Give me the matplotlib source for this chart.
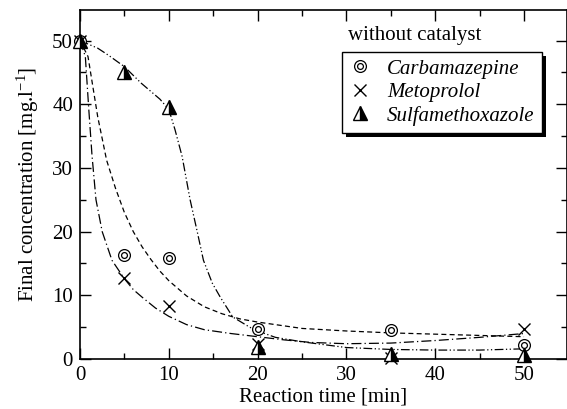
import matplotlib
matplotlib.use("Agg")
import matplotlib.pyplot as plt
from matplotlib.lines import Line2D
from matplotlib.patches import Rectangle
from matplotlib.ticker import MultipleLocator
from matplotlib.font_manager import FontProperties

plt.rcParams['font.family'] = ['Liberation Serif', 'DejaVu Serif']
plt.rcParams['mathtext.fontset'] = 'custom'
plt.rcParams['mathtext.rm'] = 'Liberation Serif'
plt.rcParams['mathtext.it'] = 'Liberation Serif:italic'

# measured points
time_pts = [0, 5, 10, 20, 35, 50]
carbamazepine = [50, 16.3, 15.8, 4.7, 4.5, 2.2]
metoprolol = [50, 12.7, 8.3, 2.4, 0.2, 4.7]
sulfamethoxazole = [50, 45.0, 39.6, 1.9, 0.8, 0.6]

# fitted curves
carb_fit_t = [0, 0.9, 2, 3, 4, 5, 6, 7, 8, 9, 10, 12, 14, 16, 18, 20, 25, 30, 35, 40, 45, 50]
carb_fit_c = [50, 47.5, 38.0, 31.2, 26.8, 23.0, 20.0, 17.6, 15.6, 13.8, 12.3, 9.9, 8.2, 7.1, 6.3, 5.8, 4.8, 4.4, 4.1, 3.9, 3.7, 3.5]

meto_fit_t = [0, 0.6, 1.0, 1.35, 1.8, 2.5, 3.6, 5.0, 6.0, 7.0, 8.5, 10, 12, 14, 17, 20, 23, 26, 30, 35, 40, 45, 50]
meto_fit_c = [50, 47.5, 39.0, 32.0, 25.0, 20.0, 15.5, 12.6, 10.9, 9.7, 8.0, 6.7, 5.4, 4.6, 4.0, 3.5, 3.0, 2.6, 2.4, 2.5, 2.9, 3.4, 4.0]

sulfa_fit_t = [0, 2, 3.2, 5, 6.9, 9, 10, 10.7, 11.5, 12.4, 13.2, 13.9, 14.9, 15.8, 17.2, 19.1, 20, 22, 25, 30, 35, 40, 45, 50]
sulfa_fit_c = [50, 48.8, 47.7, 45.9, 43.3, 40.8, 39.2, 36.0, 31.8, 25.0, 20.0, 15.5, 11.9, 9.7, 6.6, 5.0, 4.4, 3.4, 2.7, 1.8, 1.5, 1.4, 1.4, 1.6]

x_ticks = [0, 10, 20, 30, 40, 50]
y_ticks = [0, 10, 20, 30, 40, 50]
series_labels = ['Carbamazepine', 'Metoprolol', 'Sulfamethoxazole']
title_text = 'without catalyst'

fig = plt.figure(figsize=(5.67, 4.09), dpi=100)
ax = fig.add_axes([80/567, 50/409, 487/567, 349/409])

lw = 0.9
ax.plot(carb_fit_t, carb_fit_c, color='black', lw=lw, ls=(0, (4, 2.6)))
ax.plot(meto_fit_t, meto_fit_c, color='black', lw=lw, ls=(0, (8, 2.5, 1, 2.5)))
ax.plot(sulfa_fit_t, sulfa_fit_c, color='black', lw=lw, ls=(0, (7, 2, 1, 2, 1, 2)))

ax.plot(time_pts, carbamazepine, ls='none', marker='o', ms=8.5, mfc='white', mec='black', mew=0.9, clip_on=False, zorder=3)
ax.plot(time_pts, carbamazepine, ls='none', marker='o', ms=4.2, mfc='white', mec='black', mew=0.9, clip_on=False, zorder=4)
ax.plot(time_pts, metoprolol, ls='none', marker='x', ms=9, mec='black', mew=1.0, clip_on=False, zorder=4)
ax.plot(time_pts, sulfamethoxazole, ls='none', marker='^', ms=10, mfc='black', mfcalt='white',
        fillstyle='right', mec='black', mew=1.0, clip_on=False, zorder=5)

ax.set_xlim(0, 54.84)
ax.set_ylim(0, 54.8)
ax.set_xticks(x_ticks)
ax.set_yticks(y_ticks)
ax.xaxis.set_minor_locator(MultipleLocator(5))
ax.yaxis.set_minor_locator(MultipleLocator(5))
ax.tick_params(which='both', direction='in', top=True, right=True, width=1.0, labelsize=15, colors='black')
ax.tick_params(which='major', length=8, pad=5)
ax.tick_params(which='minor', length=4.5)
for s in ax.spines.values():
    s.set_linewidth(1.2)

ax.set_xlabel('Reaction time [min]', fontsize=15, labelpad=2)
ax.set_ylabel(r'Final concentration [mg.l$^{-1}$]', fontsize=15, labelpad=8)

ax.text(0.55, 0.928, title_text, transform=ax.transAxes, fontsize=15, ha='left', va='center')

h_carb = (Line2D([], [], ls='none', marker='o', ms=8.5, mfc='white', mec='black', mew=0.9),
          Line2D([], [], ls='none', marker='o', ms=4.2, mfc='white', mec='black', mew=0.9))
h_meto = Line2D([], [], ls='none', marker='x', ms=9, mec='black', mew=1.0)
h_sulfa = Line2D([], [], ls='none', marker='^', ms=10, mfc='black', mfcalt='white', fillstyle='right', mec='black', mew=1.0)

leg = ax.legend([h_carb, h_meto, h_sulfa], series_labels, loc='upper left', bbox_to_anchor=(0.538, 0.88),
                frameon=True, fancybox=False, edgecolor='black', framealpha=1, borderaxespad=0,
                prop=FontProperties(family='Liberation Serif', style='italic', size=15),
                handlelength=1.0, handletextpad=0.8, borderpad=0.35, labelspacing=0.18, numpoints=1)
leg.get_frame().set_linewidth(1.0)
leg.set_zorder(10)

# drop shadow behind the legend box
fig.canvas.draw()
bb = leg.get_window_extent()
shadow = Rectangle((bb.x0 + 4, bb.y0 - 4), bb.width, bb.height, transform=None,
                   facecolor='black', edgecolor='none', clip_on=False, zorder=9.5)
ax.add_artist(shadow)

fig.savefig('out.png', dpi=100)
